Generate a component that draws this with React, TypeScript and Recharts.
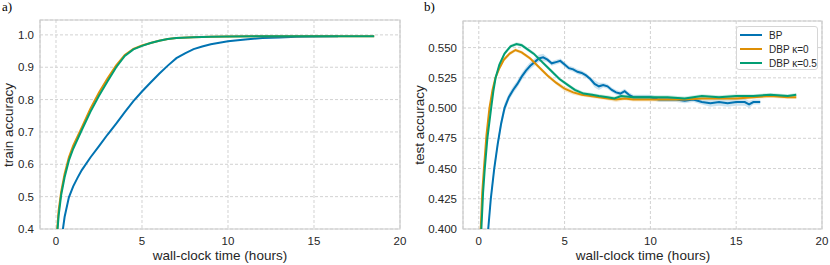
import React from 'react';
import { ComposedChart, Line, Area, XAxis, YAxis, CartesianGrid, ReferenceArea } from 'recharts';

// train accuracy (panel a)
const bpTrainHours = [0.35, 0.5, 0.75, 1.0, 1.25, 1.5, 2, 2.5, 3, 3.5, 4, 4.5, 5, 5.5, 6, 6.5, 7, 7.5, 8, 8.5, 9, 9.5, 10, 11, 12, 13, 14, 15, 16.4];
const bpTrainAcc = [0.38, 0.437, 0.498, 0.532, 0.558, 0.582, 0.621, 0.656, 0.692, 0.726, 0.761, 0.795, 0.825, 0.853, 0.88, 0.905, 0.928, 0.943, 0.956, 0.964, 0.971, 0.976, 0.98, 0.986, 0.99, 0.992, 0.994, 0.995, 0.996];

const dbpTrainHours = [0.05, 0.15, 0.3, 0.5, 0.75, 1.0, 1.5, 2.0, 2.5, 3.0, 3.5, 4.0, 4.5, 5.0, 5.5, 6.0, 6.5, 7.0, 8.0, 9.0, 10, 12, 14, 16, 18.5];
const dbp0TrainAcc = [0.385, 0.455, 0.515, 0.57, 0.622, 0.658, 0.714, 0.772, 0.822, 0.866, 0.906, 0.938, 0.957, 0.967, 0.975, 0.982, 0.987, 0.99, 0.993, 0.994, 0.995, 0.996, 0.996, 0.996, 0.996];
const dbp05TrainAcc = [0.37, 0.44, 0.505, 0.56, 0.612, 0.648, 0.706, 0.762, 0.812, 0.857, 0.9, 0.935, 0.955, 0.966, 0.975, 0.982, 0.987, 0.99, 0.993, 0.994, 0.995, 0.996, 0.996, 0.996, 0.996];

// test accuracy (panel b)
const bpTestHours = [0.55, 0.7, 0.9, 1.1, 1.3, 1.5, 1.75, 2.0, 2.25, 2.5, 2.75, 3.0, 3.25, 3.5, 3.75, 4.0, 4.25, 4.5, 4.75, 5.0, 5.25, 5.5, 5.75, 6.0, 6.25, 6.5, 6.75, 7.0, 7.25, 7.5, 7.75, 8.0, 8.25, 8.5, 8.75, 9.0, 9.5, 10, 10.5, 11, 11.5, 12, 12.5, 13, 13.5, 14, 14.5, 15, 15.5, 15.75, 16, 16.4];
const bpTestAcc = [0.4, 0.425, 0.45, 0.47, 0.487, 0.5, 0.509, 0.515, 0.52, 0.526, 0.531, 0.535, 0.538, 0.541, 0.542, 0.54, 0.537, 0.538, 0.539, 0.536, 0.533, 0.532, 0.53, 0.529, 0.527, 0.524, 0.52, 0.518, 0.519, 0.518, 0.515, 0.513, 0.512, 0.514, 0.511, 0.509, 0.509, 0.509, 0.507, 0.507, 0.507, 0.506, 0.507, 0.505, 0.504, 0.505, 0.504, 0.505, 0.505, 0.503, 0.505, 0.505];
const bpTestSpread = [0.004, 0.004, 0.004, 0.004, 0.004, 0.004, 0.003, 0.003, 0.003, 0.003, 0.003, 0.003, 0.003, 0.003, 0.003, 0.002, 0.002, 0.002, 0.002, 0.002, 0.002, 0.002, 0.002, 0.002, 0.002, 0.002, 0.003, 0.003, 0.002, 0.002, 0.002, 0.002, 0.002, 0.002, 0.002, 0.002, 0.002, 0.002, 0.002, 0.002, 0.002, 0.002, 0.002, 0.002, 0.003, 0.003, 0.003, 0.003, 0.003, 0.003, 0.002, 0.002];

const dbp0TestHours = [0.1, 0.2, 0.3, 0.45, 0.62, 0.8, 0.97, 1.2, 1.46, 1.8, 2.14, 2.5, 3.0, 3.5, 4.0, 4.5, 5.0, 5.5, 6, 6.5, 7, 7.5, 8, 8.5, 9, 10, 11, 12, 13, 14, 15, 16, 17, 18, 18.5];
const dbp0TestAcc = [0.395, 0.43, 0.45, 0.478, 0.5, 0.515, 0.525, 0.533, 0.54, 0.545, 0.548, 0.546, 0.541, 0.534, 0.527, 0.521, 0.516, 0.513, 0.511, 0.51, 0.509, 0.508, 0.507, 0.508, 0.507, 0.507, 0.507, 0.507, 0.508, 0.508, 0.508, 0.509, 0.51, 0.509, 0.509];
const dbp0TestSpread = [0.002, 0.002, 0.002, 0.002, 0.002, 0.002, 0.002, 0.0015, 0.0015, 0.0015, 0.0015, 0.0015, 0.0015, 0.0015, 0.0015, 0.0015, 0.002, 0.002, 0.0015, 0.0015, 0.0015, 0.0015, 0.002, 0.0015, 0.0015, 0.0015, 0.0015, 0.0015, 0.0015, 0.0015, 0.0015, 0.0015, 0.0015, 0.0015, 0.0015];

const dbp05TestHours = [0.15, 0.25, 0.35, 0.5, 0.72, 0.85, 0.98, 1.2, 1.5, 1.85, 2.2, 2.5, 2.8, 3.2, 3.7, 4.2, 4.7, 5.2, 5.6, 6.1, 6.6, 7, 7.5, 7.9, 8.3, 9, 10, 11, 12, 13, 14, 15, 16, 17, 18, 18.5];
const dbp05TestAcc = [0.4, 0.43, 0.45, 0.475, 0.5, 0.514, 0.525, 0.536, 0.545, 0.551, 0.553, 0.552, 0.549, 0.545, 0.538, 0.531, 0.524, 0.519, 0.515, 0.512, 0.511, 0.51, 0.509, 0.508, 0.51, 0.509, 0.509, 0.509, 0.508, 0.51, 0.509, 0.51, 0.51, 0.511, 0.51, 0.511];
const dbp05TestSpread = [0.002, 0.002, 0.002, 0.002, 0.002, 0.002, 0.0015, 0.0015, 0.0015, 0.0015, 0.0015, 0.0015, 0.0015, 0.0015, 0.0015, 0.0015, 0.0015, 0.0015, 0.0015, 0.0015, 0.0015, 0.0015, 0.0015, 0.0015, 0.0015, 0.0015, 0.0015, 0.0015, 0.0015, 0.0015, 0.0015, 0.0015, 0.0015, 0.0015, 0.0015, 0.0015];

const hourTicks = [0, 5, 10, 15, 20];
const trainTicks = [0.4, 0.5, 0.6, 0.7, 0.8, 0.9, 1.0];
const testTicks = [0.4, 0.425, 0.45, 0.475, 0.5, 0.525, 0.55];

const COLORS = { bp: '#0173b2', dbp0: '#de8f05', dbp05: '#029e73' };
const SERIES_NAMES = ['BP', 'DBP κ=0', 'DBP κ=0.5'];
const SERIES_COLORS = [COLORS.bp, COLORS.dbp0, COLORS.dbp05];

const FONT = '"Liberation Sans", Arial, sans-serif';
const TEXT = '#262626';
const GRID = '#d2d2d2';

const toRows = (hours: number[], acc: number[]) => hours.map((h, i) => ({ h, v: acc[i] }));
const toBand = (hours: number[], acc: number[], spread: number[]) =>
  hours.map((h, i) => ({ h, band: [acc[i] - spread[i], acc[i] + spread[i]] }));

const LegendBox = () => (
  <div style={{ position: 'absolute', left: 736, top: 26, width: 82, height: 44, boxSizing: 'border-box', border: '1px solid #d6d6d6', borderRadius: 3, background: 'white', padding: '1px 0 0 3px', fontFamily: FONT, fontSize: 10, color: TEXT, whiteSpace: 'nowrap' }}>
    {SERIES_NAMES.map((name, i) => (
      <div key={name} style={{ display: 'flex', alignItems: 'center', height: 14 }}>
        <span style={{ display: 'inline-block', width: 22, height: 2, background: SERIES_COLORS[i], marginRight: 7 }} />
        <span>{name}</span>
      </div>
    ))}
  </div>
);

const TrainPanel = () => (
  <ComposedChart width={415} height={265} margin={{ top: 20, right: 15, bottom: 0, left: 0 }}>
    <CartesianGrid stroke={GRID} strokeDasharray="3 2" />
    <ReferenceArea x1={-0.93} x2={20} y1={0.4} y2={1.046} fill="none" stroke="#cccccc" strokeWidth={1.2} />
    <XAxis dataKey="h" type="number" domain={[-0.93, 20]} ticks={hourTicks} allowDataOverflow height={36}
      tickLine={false} axisLine={false} tickSize={4} tickMargin={4} tick={{ fontSize: 11.5, fill: TEXT, fontFamily: FONT }} />
    <YAxis type="number" domain={[0.4, 1.046]} ticks={trainTicks} allowDataOverflow width={40}
      tickFormatter={(v: number) => v.toFixed(1)}
      tickLine={false} axisLine={false} tickSize={4} tickMargin={2} tick={{ fontSize: 11.5, fill: TEXT, fontFamily: FONT }} />
    <Line data={toRows(bpTrainHours, bpTrainAcc)} dataKey="v" stroke={COLORS.bp} strokeWidth={2} dot={false} isAnimationActive={false} />
    <Line data={toRows(dbpTrainHours, dbp0TrainAcc)} dataKey="v" stroke={COLORS.dbp0} strokeWidth={2} dot={false} isAnimationActive={false} />
    <Line data={toRows(dbpTrainHours, dbp05TrainAcc)} dataKey="v" stroke={COLORS.dbp05} strokeWidth={2} dot={false} isAnimationActive={false} />
  </ComposedChart>
);

const TestPanel = () => (
  <ComposedChart width={415} height={265} margin={{ top: 21, right: 8, bottom: 0, left: 0 }}>
    <CartesianGrid stroke={GRID} strokeDasharray="3 2" />
    <ReferenceArea x1={-0.92} x2={20} y1={0.4} y2={0.572} fill="none" stroke="#cccccc" strokeWidth={1.2} />
    <XAxis dataKey="h" type="number" domain={[-0.92, 20]} ticks={hourTicks} allowDataOverflow height={36}
      tickLine={false} axisLine={false} tickSize={4} tickMargin={4} tick={{ fontSize: 11.5, fill: TEXT, fontFamily: FONT }} />
    <YAxis type="number" domain={[0.4, 0.572]} ticks={testTicks} allowDataOverflow width={48}
      tickFormatter={(v: number) => v.toFixed(3)}
      tickLine={false} axisLine={false} tickSize={4} tickMargin={2} tick={{ fontSize: 11.5, fill: TEXT, fontFamily: FONT }} />
    <Area data={toBand(bpTestHours, bpTestAcc, bpTestSpread)} dataKey="band" stroke="none" fill={COLORS.bp} fillOpacity={0.2} isAnimationActive={false} />
    <Area data={toBand(dbp0TestHours, dbp0TestAcc, dbp0TestSpread)} dataKey="band" stroke="none" fill={COLORS.dbp0} fillOpacity={0.2} isAnimationActive={false} />
    <Area data={toBand(dbp05TestHours, dbp05TestAcc, dbp05TestSpread)} dataKey="band" stroke="none" fill={COLORS.dbp05} fillOpacity={0.2} isAnimationActive={false} />
    <Line data={toRows(bpTestHours, bpTestAcc)} dataKey="v" name={SERIES_NAMES[0]} stroke={COLORS.bp} strokeWidth={2} dot={false} isAnimationActive={false} />
    <Line data={toRows(dbp0TestHours, dbp0TestAcc)} dataKey="v" name={SERIES_NAMES[1]} stroke={COLORS.dbp0} strokeWidth={2} dot={false} isAnimationActive={false} />
    <Line data={toRows(dbp05TestHours, dbp05TestAcc)} dataKey="v" name={SERIES_NAMES[2]} stroke={COLORS.dbp05} strokeWidth={2} dot={false} isAnimationActive={false} />
  </ComposedChart>
);

export default function App() {
  return (
    <div style={{ position: 'absolute', left: 0, top: 0, width: 830, height: 265, background: 'white', fontFamily: FONT }}>
      <div style={{ position: 'absolute', left: 0, top: 0 }}>
        <TrainPanel />
      </div>
      <div style={{ position: 'absolute', left: 415, top: 0 }}>
        <TestPanel />
      </div>
      <svg width={830} height={265} style={{ position: 'absolute', left: 0, top: 0, pointerEvents: 'none' }}>
        <text x={2} y={11} fontFamily='"Liberation Serif", "DejaVu Serif", serif' fontSize={13} fill="#000">a)</text>
        <text x={424} y={11} fontFamily='"Liberation Serif", "DejaVu Serif", serif' fontSize={13} fill="#000">b)</text>
        <text x={220} y={260} textAnchor="middle" fontFamily={FONT} fontSize={13.5} fill={TEXT}>wall-clock time (hours)</text>
        <text x={643} y={260} textAnchor="middle" fontFamily={FONT} fontSize={13.5} fill={TEXT}>wall-clock time (hours)</text>
        <text x={8} y={125} transform="rotate(-90 8 125)" textAnchor="middle" dominantBaseline="central" fontFamily={FONT} fontSize={13.5} fill={TEXT}>train accuracy</text>
        <text x={419} y={125} transform="rotate(-90 419 125)" textAnchor="middle" dominantBaseline="central" fontFamily={FONT} fontSize={13.5} fill={TEXT}>test accuracy</text>
      </svg>
      <LegendBox />
    </div>
  );
}
